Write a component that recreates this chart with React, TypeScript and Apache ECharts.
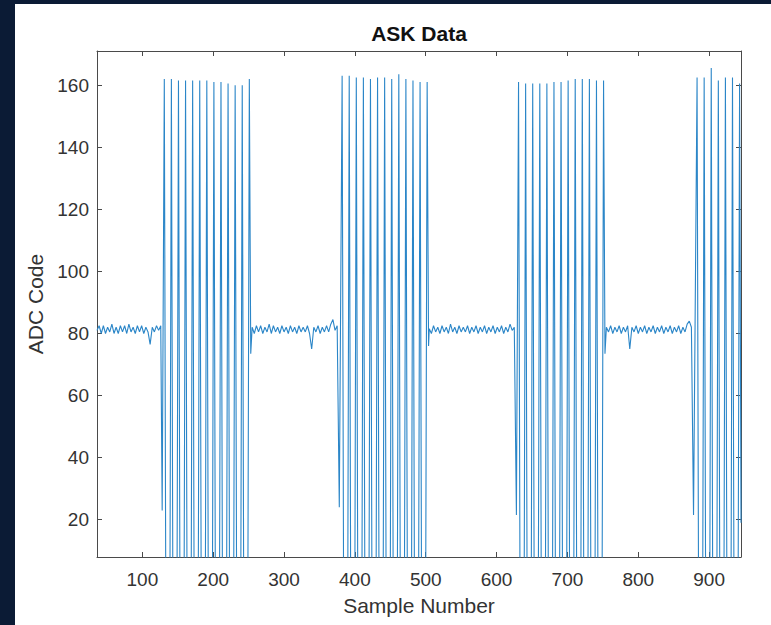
import { useEffect, useRef } from "react";
import * as echarts from "echarts";

const titleText = "ASK Data";
const xAxisName = "Sample Number";
const yAxisName = "ADC Code";
const xTicks = [100, 200, 300, 400, 500, 600, 700, 800, 900];
const yTicks = [20, 40, 60, 80, 100, 120, 140, 160];
const xRange = [36, 945];
const yRange = [8, 171];

// quiet (carrier off) segments, one value every 3 samples
const quietStep = 3;
const quietStarts = [36, 255, 505, 755];
const quiet1 = [81, 82.5, 80, 82.5, 80, 82, 80.5, 83, 80, 82, 80, 82.5, 80.5, 82.5, 80, 83, 80.5, 82, 80, 82.5, 80.5, 82.5, 80, 82, 80.5, 76.5, 82, 80.5, 82.5, 81, 82.5];
const quiet2 = [82, 80, 82.5, 80.5, 82.5, 80, 82, 80.5, 83, 80, 82.5, 80.5, 82, 80, 82.5, 80.5, 82, 80, 82.5, 80.5, 82, 80, 82.5, 80.5, 82, 80.5, 82.5, 80, 75, 82, 80.5, 82.5, 80, 82, 80.5, 82.5, 80.5, 83, 84.5, 81, 82.5];
const quiet3 = [81.5, 80, 82.5, 80.5, 82, 80, 82.5, 80.5, 82, 80, 83, 80.5, 82, 80, 82.5, 80.5, 82, 80.5, 82.5, 80, 82, 80.5, 82.5, 80, 82, 80.5, 82.5, 80, 82, 80.5, 82.5, 80, 82, 80.5, 82.5, 80, 82, 80.5, 83, 81, 82];
const quiet4 = [82, 80.5, 82.5, 80, 82, 80.5, 82.5, 80, 82, 80.5, 82.5, 75, 82, 80.5, 82.5, 80, 82, 80.5, 82.5, 80, 82, 80.5, 82.5, 80, 82, 80.5, 82.5, 80, 82, 80.5, 82.5, 80, 82, 80.5, 82.5, 80, 82, 80.5, 83, 84, 82];

// bursts (carrier on)
const burstStarts = [128, 378, 628, 878];
const burstDropValues = [23, 24, 21.5, 21.5];
const burstFirstPeaks = [131, 382, 631, 883];
const spikePeriod = 10;
const spikeHalfWidth = 2;
const spikeTroughValue = 2;
const burstPeaks1 = [162, 162, 161.5, 161.5, 161.5, 161.5, 161.5, 161, 161, 160.5, 160, 160, 162];
const burstPeaks2 = [163, 163, 162.5, 162.5, 162, 162.5, 162.5, 162, 163.5, 162, 161.5, 161, 161];
const burstPeaks3 = [161, 160.5, 160.5, 160.5, 160.5, 161, 161, 161.5, 162, 162, 162, 161.5, 161.5];
const burstPeaks4 = [162.5, 162.5, 165.5, 161.5, 162.5, 162.5, 160.5];
const burstEndSamples = [253, 504, 753, 945];
const burstEndValues = [73.5, 76, 73.5, 19];

const quietSegments = [quiet1, quiet2, quiet3, quiet4];
const burstPeakSets = [burstPeaks1, burstPeaks2, burstPeaks3, burstPeaks4];

function buildSeries(): [number, number][] {
  const pts: [number, number][] = [];
  for (let s = 0; s < 4; s++) {
    quietSegments[s].forEach((v, i) => pts.push([quietStarts[s] + i * quietStep, v]));
    pts.push([burstStarts[s], burstDropValues[s]]);
    const peaks = burstPeakSets[s];
    peaks.forEach((v, k) => {
      const p = burstFirstPeaks[s] + k * spikePeriod;
      if (k > 0) pts.push([p - spikeHalfWidth, spikeTroughValue]);
      pts.push([p, v]);
      if (k < peaks.length - 1) pts.push([p + spikeHalfWidth, spikeTroughValue]);
    });
    pts.push([burstEndSamples[s], burstEndValues[s]]);
  }
  return pts;
}

const FONT = "'Liberation Sans', Arial, Helvetica, sans-serif";
const AXIS_COLOR = "#4a4a4a";
const LABEL_COLOR = "#333333";

export default function App() {
  const ref = useRef<HTMLDivElement>(null);
  useEffect(() => {
    if (!ref.current) return;
    const chart = echarts.init(ref.current, null, { renderer: "svg" });
    const axisLine = { show: true, lineStyle: { color: AXIS_COLOR, width: 1 } };
    chart.setOption({
      animation: false,
      backgroundColor: "#ffffff",
      grid: { left: 82, top: 47, right: 30, bottom: 68, show: false },
      graphic: [
        {
          type: "text",
          x: 404,
          y: 29,
          style: {
            text: titleText,
            font: `bold 21px ${FONT}`,
            fill: "#111111",
            align: "center",
            verticalAlign: "middle",
            textAlign: "center",
            textVerticalAlign: "middle",
          },
        },
      ],
      xAxis: [
        {
          type: "value",
          position: "bottom",
          min: xRange[0],
          max: xRange[1],
          name: xAxisName,
          nameLocation: "middle",
          nameGap: 38,
          nameTextStyle: { fontFamily: FONT, fontSize: 21, color: LABEL_COLOR },
          axisLine,
          axisTick: { show: true, inside: true, length: 5, lineStyle: { color: AXIS_COLOR }, customValues: xTicks },
          axisLabel: { show: true, margin: 13, fontFamily: FONT, fontSize: 19, color: LABEL_COLOR, customValues: xTicks },
          splitLine: { show: false },
        },
        {
          type: "value",
          position: "top",
          min: xRange[0],
          max: xRange[1],
          axisLine,
          axisTick: { show: true, inside: true, length: 5, lineStyle: { color: AXIS_COLOR }, customValues: xTicks },
          axisLabel: { show: false },
          splitLine: { show: false },
        },
      ],
      yAxis: [
        {
          type: "value",
          position: "left",
          min: yRange[0],
          max: yRange[1],
          name: yAxisName,
          nameLocation: "middle",
          nameGap: 50,
          nameTextStyle: { fontFamily: FONT, fontSize: 21, color: LABEL_COLOR },
          axisLine,
          axisTick: { show: true, inside: true, length: 5, lineStyle: { color: AXIS_COLOR }, customValues: yTicks },
          axisLabel: { show: true, margin: 8, fontFamily: FONT, fontSize: 19, color: LABEL_COLOR, customValues: yTicks },
          splitLine: { show: false },
        },
        {
          type: "value",
          position: "right",
          min: yRange[0],
          max: yRange[1],
          axisLine,
          axisTick: { show: true, inside: true, length: 5, lineStyle: { color: AXIS_COLOR }, customValues: yTicks },
          axisLabel: { show: false },
          splitLine: { show: false },
        },
      ],
      series: [
        {
          type: "line",
          xAxisIndex: 0,
          yAxisIndex: 0,
          data: buildSeries(),
          showSymbol: false,
          symbol: "none",
          clip: true,
          lineStyle: { color: "#2b86c8", width: 1.1 },
        },
      ],
    });
    return () => chart.dispose();
  }, []);
  return (
    <div style={{ position: "absolute", left: 0, top: 0, width: 771, height: 625, background: "#0b1b35", overflow: "hidden" }}>
      <div ref={ref} style={{ position: "absolute", left: 15, top: 4, width: 756, height: 621, background: "#ffffff" }} />
    </div>
  );
}
